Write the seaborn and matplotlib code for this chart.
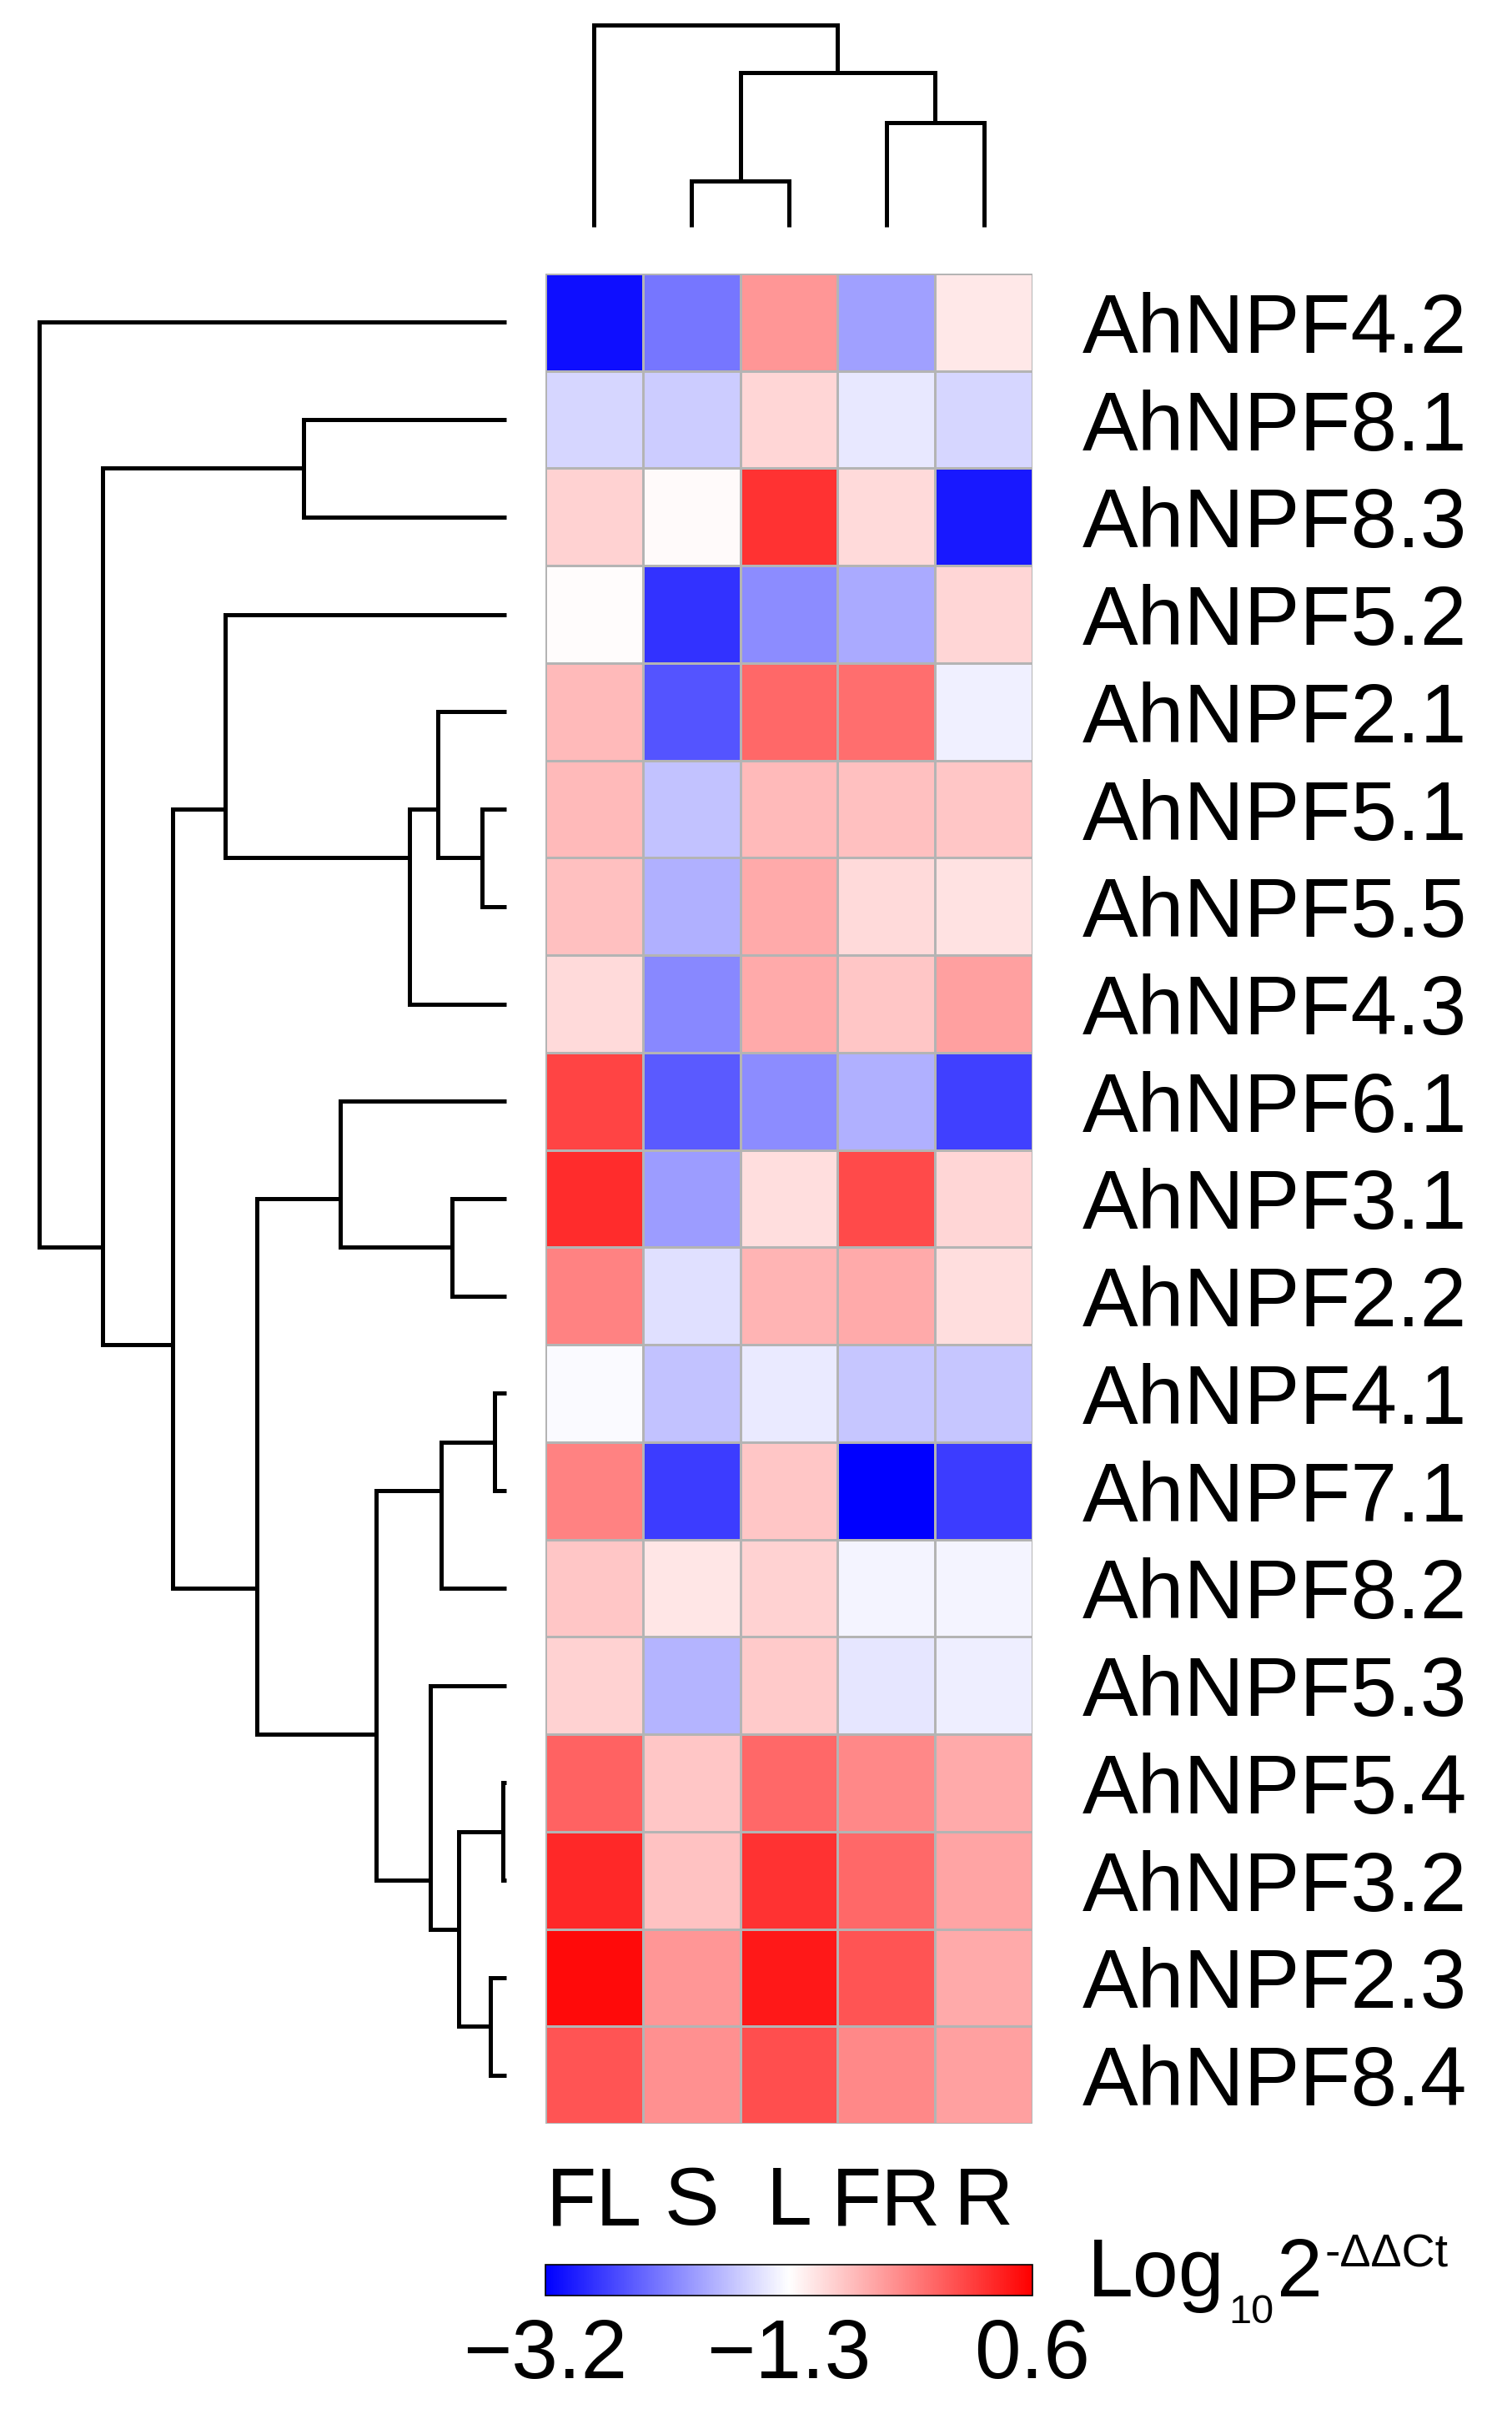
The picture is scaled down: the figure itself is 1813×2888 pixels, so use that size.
import numpy as np
import pandas as pd
import matplotlib
matplotlib.use("Agg")
import matplotlib.pyplot as plt
import seaborn as sns

sns.set_style("white")
plt.rcParams['font.family'] = ['Liberation Sans', 'DejaVu Sans']
plt.rcParams['text.color'] = 'black'
plt.rcParams['xtick.color'] = 'black'
plt.rcParams['ytick.color'] = 'black'

genes = ["AhNPF4.2", "AhNPF8.1", "AhNPF8.3", "AhNPF5.2", "AhNPF2.1", "AhNPF5.1",
         "AhNPF5.5", "AhNPF4.3", "AhNPF6.1", "AhNPF3.1", "AhNPF2.2", "AhNPF4.1",
         "AhNPF7.1", "AhNPF8.2", "AhNPF5.3", "AhNPF5.4", "AhNPF3.2", "AhNPF2.3",
         "AhNPF8.4"]
tissues = ["FL", "S", "L", "FR", "R"]

# log10 2^-ddCt per tissue, rows in the order of the genes list
fl = [-3.09, -1.60, -0.96, -1.28, -0.79, -0.79, -0.83, -1.02, 0.09, 0.26,
      -0.37, -1.34, -0.37, -0.88, -0.96, -0.14, 0.30, 0.52, -0.03]
s = [-2.31, -1.68, -1.26, -2.82, -2.57, -1.76, -1.89, -2.19, -2.53, -2.04,
     -1.53, -1.76, -2.74, -1.11, -1.85, -0.88, -0.84, -0.52, -0.48]
l = [-0.52, -1.00, 0.22, -2.16, -0.18, -0.79, -0.67, -0.67, -2.16, -1.05,
     -0.75, -1.45, -0.88, -0.96, -0.90, -0.18, 0.22, 0.41, 0.01]
fr = [-2.00, -1.47, -1.02, -1.93, -0.22, -0.83, -1.02, -0.88, -1.89, 0.05,
      -0.67, -1.72, -3.20, -1.38, -1.49, -0.41, -0.18, -0.03, -0.41]
r = [-1.13, -1.60, -3.01, -1.00, -1.41, -0.88, -1.09, -0.60, -2.72, -1.00,
     -1.05, -1.72, -2.74, -1.38, -1.43, -0.67, -0.63, -0.67, -0.60]

# dendrogram merges: (child a, child b, height); new node ids start at n leaves
row_links = [(15, 16, 4), (11, 12, 14), (17, 18, 19), (5, 6, 29), (19, 21, 57),
             (9, 10, 65), (20, 13, 78), (4, 22, 82), (14, 23, 91), (26, 7, 116),
             (25, 27, 156), (8, 24, 199), (1, 2, 243), (30, 29, 299), (3, 28, 337),
             (33, 32, 400), (31, 34, 484), (0, 35, 560)]
col_links = [(1, 2, 55), (3, 4, 125), (5, 6, 185), (0, 7, 242)]

cbar_ticks = [-3.2, -1.3, 0.6]
cbar_labels = ["\u22123.2", "\u22121.3", "0.6"]

df = pd.DataFrame({"FL": fl, "S": s, "L": l, "FR": fr, "R": r}, index=genes)[tissues]

W, H = 1813, 2888


def rect(x0, y0, x1, y1):
    return [x0 / W, 1 - y1 / H, (x1 - x0) / W, (y1 - y0) / H]


def draw_dendro(ax, links, n, side):
    pos = {i: i + 0.5 for i in range(n)}
    hgt = {i: 0.0 for i in range(n)}
    size = {i: 1 for i in range(n)}
    for k, (a, b, h) in enumerate(links):
        node = n + k
        p = [pos[a], pos[a], pos[b], pos[b]]
        q = [hgt[a], h, h, hgt[b]]
        if side == "left":
            ax.plot(q, p, color="black", lw=3.6, solid_joinstyle="miter", solid_capstyle="butt")
        else:
            ax.plot(p, q, color="black", lw=3.6, solid_joinstyle="miter", solid_capstyle="butt")
        size[node] = size[a] + size[b]
        pos[node] = (pos[a] * size[a] + pos[b] * size[b]) / size[node]
        hgt[node] = h


fig = plt.figure(figsize=(W / 100, H / 100), dpi=100)
ax = fig.add_axes(rect(654, 328, 1238, 2546))
cax = fig.add_axes(rect(654, 2715, 1238, 2752))
rax = fig.add_axes(rect(0, 328, 654, 2546))
tax = fig.add_axes(rect(654, 0, 1238, 328))

sns.heatmap(df, ax=ax, cmap="bwr", vmin=-3.2, vmax=0.6, cbar_ax=cax,
            linewidths=0.8, linecolor="#b4b4b4",
            cbar_kws={"orientation": "horizontal", "ticks": cbar_ticks})

ax.yaxis.tick_right()
ax.set_yticklabels(genes, rotation=0)
ax.set_xticklabels(tissues, rotation=0)
ax.tick_params(axis="y", length=0, pad=43, labelsize=72)
ax.tick_params(axis="x", length=0, pad=36, labelsize=71)
ax.set_xlabel("")
ax.set_ylabel("")

cbar = ax.collections[0].colorbar
cbar.set_ticks(cbar_ticks)
cbar.set_ticklabels(cbar_labels)
cax.tick_params(axis="x", length=0, pad=19, labelsize=72)
cbar.outline.set_edgecolor("black")
cbar.outline.set_linewidth(1.2)

draw_dendro(rax, row_links, len(genes), "left")
rax.set_xlim(607, -47)
rax.set_ylim(len(genes), 0)
rax.axis("off")

draw_dendro(tax, col_links, len(tissues), "top")
tax.set_xlim(0, len(tissues))
tax.set_ylim(-56, 272)
tax.axis("off")

# colorbar title: Log10 2^-ddCt
t1 = fig.text(1304 / W, 1 - 2753 / H, "Log", fontsize=71, va="baseline", ha="left")
t2 = cax.annotate("10", xy=(1, 1 - 2785 / H), xycoords=(t1, "figure fraction"),
                  xytext=(3, 0), textcoords="offset points",
                  fontsize=35, va="baseline", ha="left", annotation_clip=False)
t3 = cax.annotate("2", xy=(1, 1 - 2753 / H), xycoords=(t2, "figure fraction"),
                  xytext=(3, 0), textcoords="offset points",
                  fontsize=71, va="baseline", ha="left", annotation_clip=False)
t4 = cax.annotate("-\u0394\u0394Ct", xy=(1, 1 - 2717 / H), xycoords=(t3, "figure fraction"),
                  xytext=(2, 0), textcoords="offset points",
                  fontsize=40, va="baseline", ha="left", annotation_clip=False)

fig.savefig("out.png", dpi=100, facecolor="white")
